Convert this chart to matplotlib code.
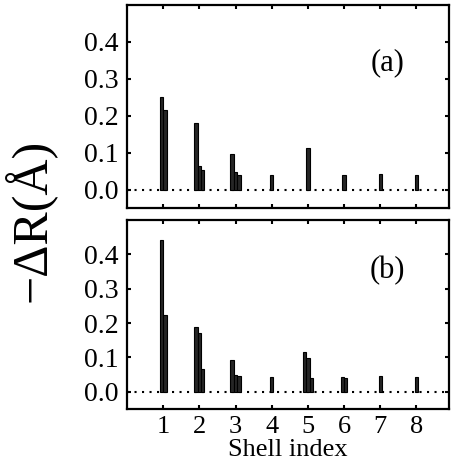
import matplotlib
matplotlib.use("Agg")
import matplotlib.pyplot as plt
import numpy as np

plt.rcParams['font.family'] = ['Liberation Serif', 'DejaVu Serif']
plt.rcParams['mathtext.fontset'] = 'stix'

shells = [1, 2, 3, 4, 5, 6, 7, 8]
xtick_labels = ['1', '2', '3', '4', '5', '6', '7', '8']
yticks = [0.0, 0.1, 0.2, 0.3, 0.4]

# displacement of each atom in a shell, panel (a)
disp_a = [
    [0.250, 0.215],
    [0.179, 0.064, 0.054],
    [0.097, 0.047, 0.040],
    [0.039],
    [0.111],
    [0.038],
    [0.041],
    [0.040],
]
# displacement of each atom in a shell, panel (b)
disp_b = [
    [0.442, 0.225],
    [0.189, 0.172, 0.066],
    [0.092, 0.049, 0.047],
    [0.043],
    [0.115, 0.097, 0.040],
    [0.042, 0.041],
    [0.045],
    [0.044],
]
panel_tags = ['(a)', '(b)']

W, H = 452, 468
fig = plt.figure(figsize=(W / 100, H / 100), dpi=100)
ax_a = fig.add_axes([127 / W, 1 - 208 / H, 322 / W, 203.5 / H])
ax_b = fig.add_axes([127 / W, 1 - 409 / H, 322 / W, 189 / H])

bar_w = 0.093

for ax, data, tag, ty in zip([ax_a, ax_b], [disp_a, disp_b], panel_tags, [0.712, 0.735]):
    for s, vals in zip(shells, data):
        n = len(vals)
        offs = (np.arange(n) - (n - 1) / 2) * bar_w
        ax.bar(s + offs, vals, width=bar_w, color='0.15',
               edgecolor='black', linewidth=0.8, zorder=3)
    ax.axhline(0.0, color='black', linestyle=(0, (1, 2.6)), linewidth=1.5, zorder=2)
    ax.set_xlim(0, 8.9)
    ax.set_ylim(-0.05, 0.5)
    ax.set_yticks(yticks)
    ax.set_yticklabels([f'{v:.1f}' for v in yticks])
    ax.set_xticks(shells)
    ax.tick_params(direction='in', length=3, width=1.5, top=True, right=True,
                   labelsize=20, pad=6)
    ax.tick_params(axis='x', pad=5, labelsize=19)
    for sp in ax.spines.values():
        sp.set_linewidth(1.6)
    ax.text(0.81, ty, tag, transform=ax.transAxes,
            ha='center', va='center', fontsize=22)

ax_a.set_xticklabels([])
ax_b.set_xticklabels(xtick_labels)
ax_b.set_xlabel('Shell index', fontsize=19, labelpad=1)

fig.text(30 / W, 1 - 220 / H, '−ΔR(Å)', rotation=90, ha='center', va='center',
         fontsize=36)

fig.savefig('out.png', dpi=100)
